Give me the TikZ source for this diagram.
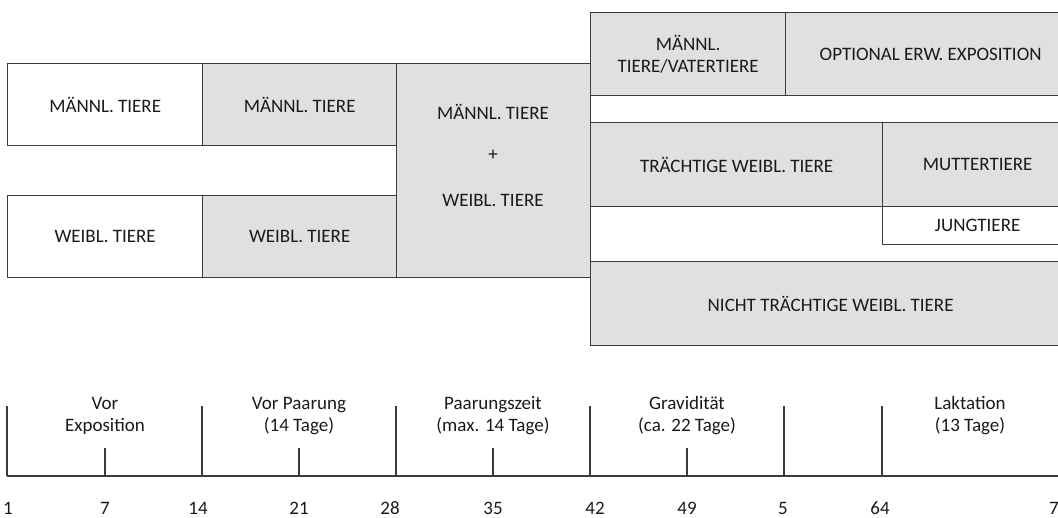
\documentclass[tikz,border=0pt]{standalone}
\usepackage{fontspec}
\setmainfont{Carlito}[Numbers=Lining]
\definecolor{boxgray}{HTML}{E0E0E0}
\definecolor{linec}{HTML}{3A3A3A}
\definecolor{txt}{HTML}{1A1A1A}
\begin{document}
\begin{tikzpicture}[x=1pt,y=-1pt,
  cell/.style={draw=linec, line width=1.3pt, inner sep=0pt, anchor=north west,
    font=\fontsize{19}{22}\selectfont, text=txt, align=center},
  wcell/.style={cell, fill=white},
  gcell/.style={cell, fill=boxgray},
  lbl/.style={font=\fontsize{19}{22}\selectfont, text=txt, align=center, inner sep=0pt},
  tickline/.style={draw=linec, line width=1.3pt}
]
\useasboundingbox (0,0) rectangle (1058,517);
\clip (0,0) rectangle (1058,517);

% left columns
\node[wcell, minimum width=195pt, minimum height=82pt] (m1) at (7,63) {MÄNNL. TIERE};
\node[gcell, minimum width=194pt, minimum height=82pt] (m2) at (202,63) {MÄNNL. TIERE};
\node[wcell, minimum width=195pt, minimum height=82pt] (w1) at (7,195) {WEIBL. TIERE};
\node[gcell, minimum width=194pt, minimum height=82pt] (w2) at (202,195) {WEIBL. TIERE};
\node[gcell, minimum width=194pt, minimum height=214pt] (mw) at (396,63) {};
\node[lbl] (mwa) at (493,112) {MÄNNL. TIERE};
\node[lbl] (mwb) at (493,155) {+};
\node[lbl] (mwc) at (493,200) {WEIBL. TIERE};

% right part
\node[gcell, minimum width=195pt, minimum height=83pt] (vt) at (590,12) {MÄNNL.\\TIERE/VATERTIERE};
\node[gcell, minimum width=290pt, minimum height=83pt] (opt) at (785,12) {OPTIONAL ERW. EXPOSITION};
\node[gcell, minimum width=292pt, minimum height=84pt] (tr) at (590,122) {TRÄCHTIGE WEIBL. TIERE};
\node[gcell, minimum width=190pt, minimum height=84pt] (mu) at (882,122) {MUTTERTIERE};
\node[wcell, minimum width=190pt, minimum height=38pt] (ju) at (882,206) {JUNGTIERE};
\node[gcell, minimum width=480pt, minimum height=84pt] (nt) at (590,261) {NICHT TRÄCHTIGE WEIBL. TIERE};

% timeline
\coordinate (a0) at (7,476);
\coordinate (aE) at (1070,476);
\draw[tickline] (a0) -- (aE);
\foreach \n/\x in {t1/7, t14/202, t28/396, t42/590, t56/784, t64/882}{
  \coordinate (\n) at (\x,476);
  \coordinate (\n top) at (\x,406);
  \draw[tickline] (\n) -- (\n top);
}
\foreach \n/\x in {t7/105, t21/299, t35/493, t49/687}{
  \coordinate (\n) at (\x,476);
  \coordinate (\n top) at (\x,448);
  \draw[tickline] (\n) -- (\n top);
}

% phase labels
\node[lbl] (p1) at (105,416) {Vor\\Exposition};
\node[lbl] (p2) at (299,416) {Vor Paarung\\(14 Tage)};
\node[lbl] (p3) at (493,416) {Paarungszeit\\(max. 14 Tage)};
\node[lbl] (p4) at (687,416) {Gravidität\\(ca. 22 Tage)};
\node[lbl] (p5) at (970,416) {Laktation\\(13 Tage)};

% day numbers
\tikzset{num/.style={lbl, anchor=base}}
\node[num] (n1) at (8,514) {1};
\node[num] (n7) at (105,514) {7};
\node[num] (n14) at (198,514) {14};
\node[num] (n21) at (299,514) {21};
\node[num] (n28) at (390,514) {28};
\node[num] (n35) at (493,514) {35};
\node[num] (n42) at (595,514) {42};
\node[num] (n49) at (687,514) {49};
\node[num] (n56) at (783,514) {5};
\node[num] (n64) at (880,514) {64};
\node[num, anchor=base west] (n72) at (1049,514) {7};
\end{tikzpicture}
\end{document}
